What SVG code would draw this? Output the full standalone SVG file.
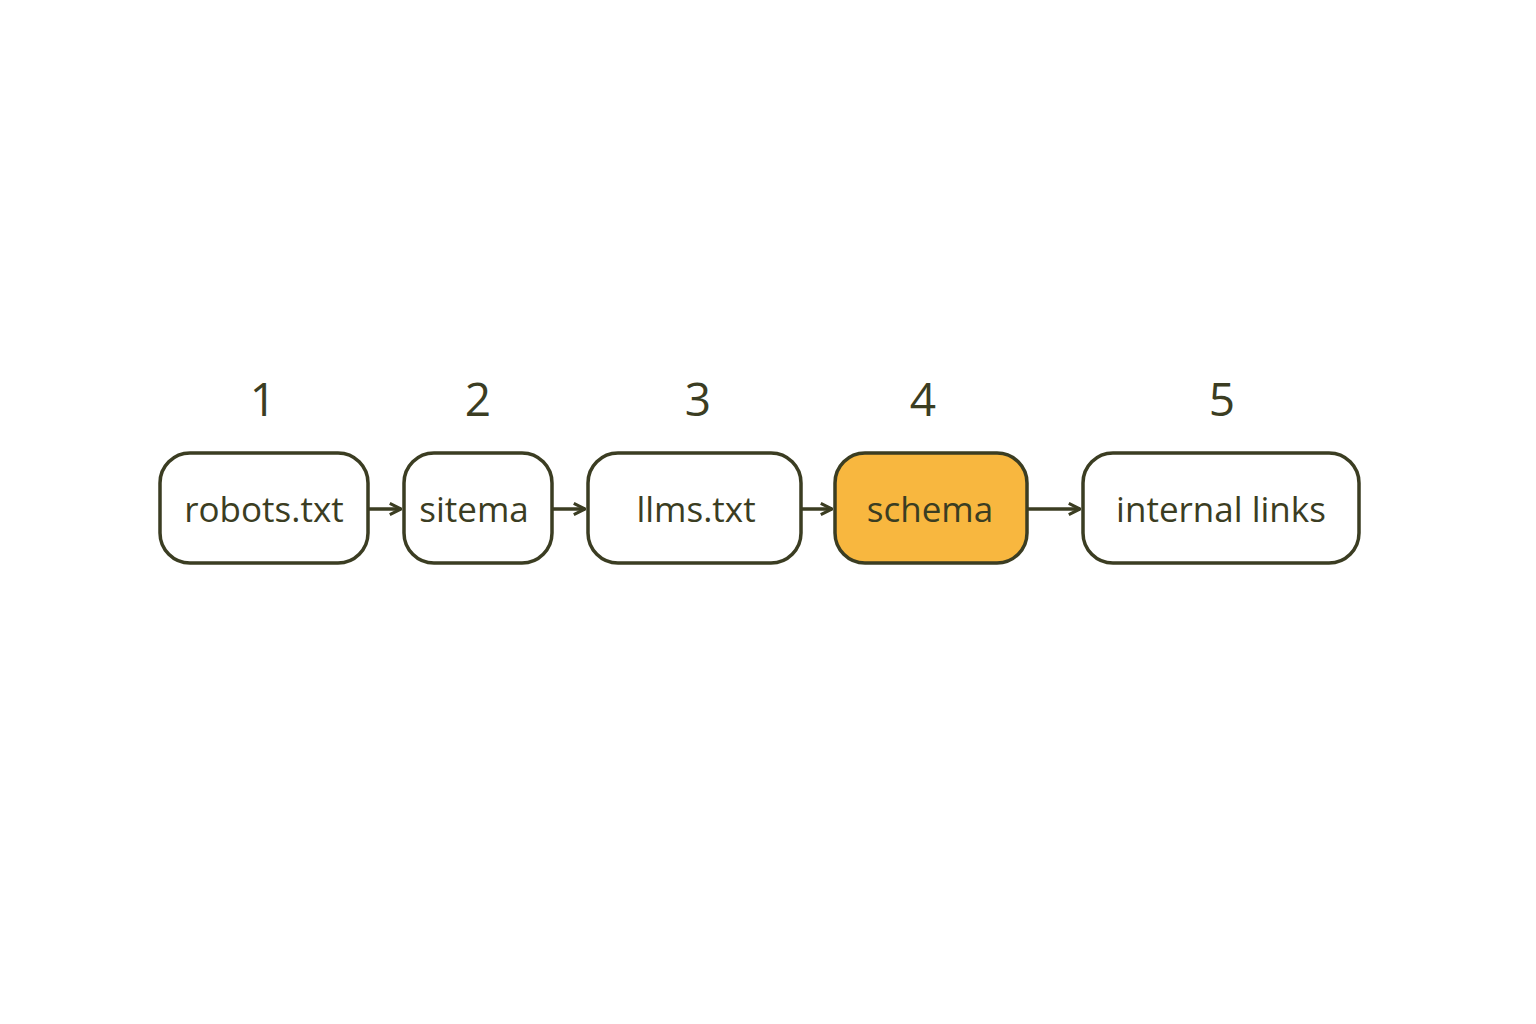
<svg xmlns="http://www.w3.org/2000/svg" width="1536" height="1024" viewBox="0 0 1536 1024">
<style>
.box{fill:#fff;stroke:#3b3d22;stroke-width:3.5}
.hl{fill:#F8B73F}
.lbl{font-family:"Open Sans","Noto Sans",sans-serif;font-size:35px;fill:#3b3d22;text-anchor:middle;dominant-baseline:central}
.num{font-family:"Open Sans","Noto Sans",sans-serif;font-size:46px;fill:#3b3d22;text-anchor:middle}
.c{stroke:#3b3d22;stroke-width:3.5;fill:none;marker-end:url(#a)}
</style>
<defs><marker id="a" viewBox="0 0 10 10" refX="9" refY="5" markerWidth="4" markerHeight="4" orient="auto"><path d="M1 1L9 5L1 9" fill="none" stroke="#3b3d22" stroke-width="2.2"/></marker></defs>
<rect width="1536" height="1024" fill="#fff"/>
<g id="connectors">
<line class="c" x1="368" y1="509" x2="401" y2="509"/>
<line class="c" x1="552" y1="509" x2="585" y2="509"/>
<line class="c" x1="801" y1="509" x2="832" y2="509"/>
<line class="c" x1="1027" y1="509" x2="1080" y2="509"/>
</g>
<g id="n1"><text class="num" x="263" y="416">1</text><rect class="box" x="160" y="453" width="208" height="110" rx="30"/><text class="lbl" x="264" y="508">robots.txt</text></g>
<g id="n2"><text class="num" x="478" y="416">2</text><rect class="box" x="404" y="453" width="148" height="110" rx="30"/><text class="lbl" x="474" y="508">sitema</text></g>
<g id="n3"><text class="num" x="698" y="416">3</text><rect class="box" x="588" y="453" width="213" height="110" rx="30"/><text class="lbl" x="696" y="508">llms.txt</text></g>
<g id="n4"><text class="num" x="923" y="416">4</text><rect class="box hl" x="835" y="453" width="192" height="110" rx="30"/><text class="lbl" x="930" y="508">schema</text></g>
<g id="n5"><text class="num" x="1222" y="416">5</text><rect class="box" x="1083" y="453" width="276" height="110" rx="30"/><text class="lbl" x="1221" y="508">internal links</text></g>
</svg>
